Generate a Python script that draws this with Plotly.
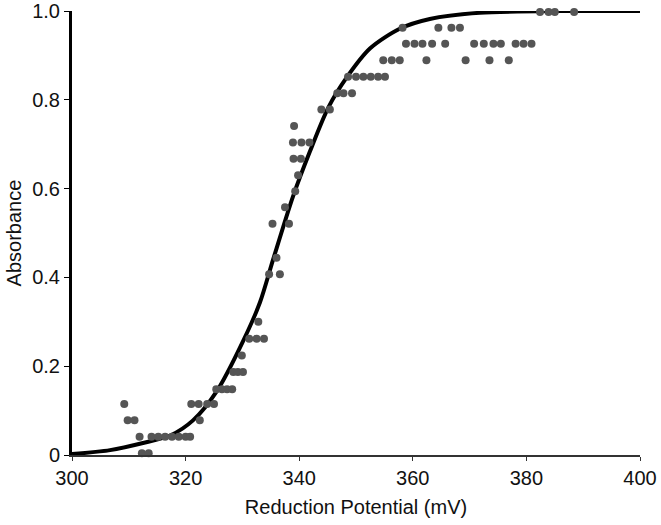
import plotly.graph_objects as go

# Fitted curve
curve_x = [300, 306.7, 312.5, 317.3, 321.3, 325.5, 330.1, 333.1, 335.4, 338.9,
           341.9, 345.1, 348.4, 352.5, 357.7, 363, 371.8, 386.4, 400]
curve_y = [0.002, 0.011, 0.027, 0.044, 0.078, 0.144, 0.256, 0.344, 0.44, 0.582,
           0.684, 0.782, 0.851, 0.916, 0.96, 0.982, 0.996, 1.0, 1.0]

pts_x = [
    309.2,
    309.8, 311.0,
    311.9, 314.0, 315.2, 316.4, 317.6, 318.8, 320.0, 320.8,
    312.3, 313.5,
    321.0, 322.3, 323.8, 325.0,
    322.5,
    325.4, 326.4, 327.3, 328.2,
    328.4, 329.2, 330.1,
    329.9,
    331.2, 332.5, 333.8,
    332.8,
    334.7, 336.6,
    336.0,
    335.3, 338.2,
    337.5,
    339.3,
    339.8,
    339.0, 340.3,
    338.9, 340.4, 341.8,
    339.1,
    343.9, 345.4,
    346.7, 347.8, 349.3,
    348.6, 350.0, 351.3, 352.6, 353.9, 355.1,
    354.8, 356.3, 357.7, 362.4, 369.3, 373.5, 376.9,
    358.8, 360.3, 361.7, 363.4, 365.7, 370.8, 372.5, 374.2, 375.5, 378.1, 379.5, 380.9,
    358.2, 364.5, 366.8, 368.3,
    382.4, 383.9, 385.0, 388.4,
]
pts_y = [
    0.115,
    0.078, 0.078,
    0.041, 0.041, 0.041, 0.041, 0.041, 0.041, 0.041, 0.041,
    0.004, 0.004,
    0.115, 0.115, 0.115, 0.115,
    0.078,
    0.148, 0.148, 0.148, 0.148,
    0.187, 0.187, 0.187,
    0.224,
    0.262, 0.262, 0.262,
    0.300,
    0.407, 0.407,
    0.444,
    0.521, 0.521,
    0.558,
    0.594,
    0.630,
    0.667, 0.667,
    0.704, 0.704, 0.704,
    0.741,
    0.778, 0.778,
    0.815, 0.815, 0.815,
    0.852, 0.852, 0.852, 0.852, 0.852, 0.852,
    0.889, 0.889, 0.889, 0.889, 0.889, 0.889, 0.889,
    0.926, 0.926, 0.926, 0.926, 0.926, 0.926, 0.926, 0.926, 0.926, 0.926, 0.926, 0.926,
    0.962, 0.962, 0.962, 0.962,
    0.998, 0.998, 0.998, 0.998,
]

x_ticks = [300, 320, 340, 360, 380, 400]
y_ticks = [0, 0.2, 0.4, 0.6, 0.8, 1.0]
y_tick_labels = ["0", "0.2", "0.4", "0.6", "0.8", "1.0"]

fig = go.Figure()
fig.add_trace(go.Scatter(x=curve_x, y=curve_y, mode="lines",
                         line=dict(color="black", width=4, shape="spline", smoothing=0.8),
                         cliponaxis=False, showlegend=False, hoverinfo="skip"))
fig.add_trace(go.Scatter(x=pts_x, y=pts_y, mode="markers",
                         marker=dict(color="#555555", size=8, line=dict(width=0)),
                         cliponaxis=False, showlegend=False))

font = dict(family="Liberation Sans, Arial, sans-serif", size=20, color="#111111")
fig.update_layout(
    width=661, height=525,
    margin=dict(l=72, r=21, t=11, b=70, autoexpand=False),
    paper_bgcolor="white", plot_bgcolor="white",
    font=font,
)
fig.update_xaxes(range=[300, 400], tickvals=x_ticks, ticks="outside", ticklen=4,
                 tickcolor="#333333", showline=True, linecolor="#333333", linewidth=1.5,
                 showgrid=False, zeroline=False, automargin=False,
                 title=dict(text="Reduction Potential (mV)", font=dict(size=20), standoff=12))
fig.update_yaxes(range=[0, 1.0], tickvals=y_ticks, ticktext=y_tick_labels, ticks="outside",
                 ticklen=5, tickcolor="black", showline=True, linecolor="black", linewidth=3,
                 showgrid=False, zeroline=False, automargin=False,
                 title=dict(text="Absorbance", font=dict(size=20), standoff=6))

fig.write_html("out.html", config={"displayModeBar": False},
               post_script="document.body.style.margin='0';document.body.style.overflow='hidden';")
